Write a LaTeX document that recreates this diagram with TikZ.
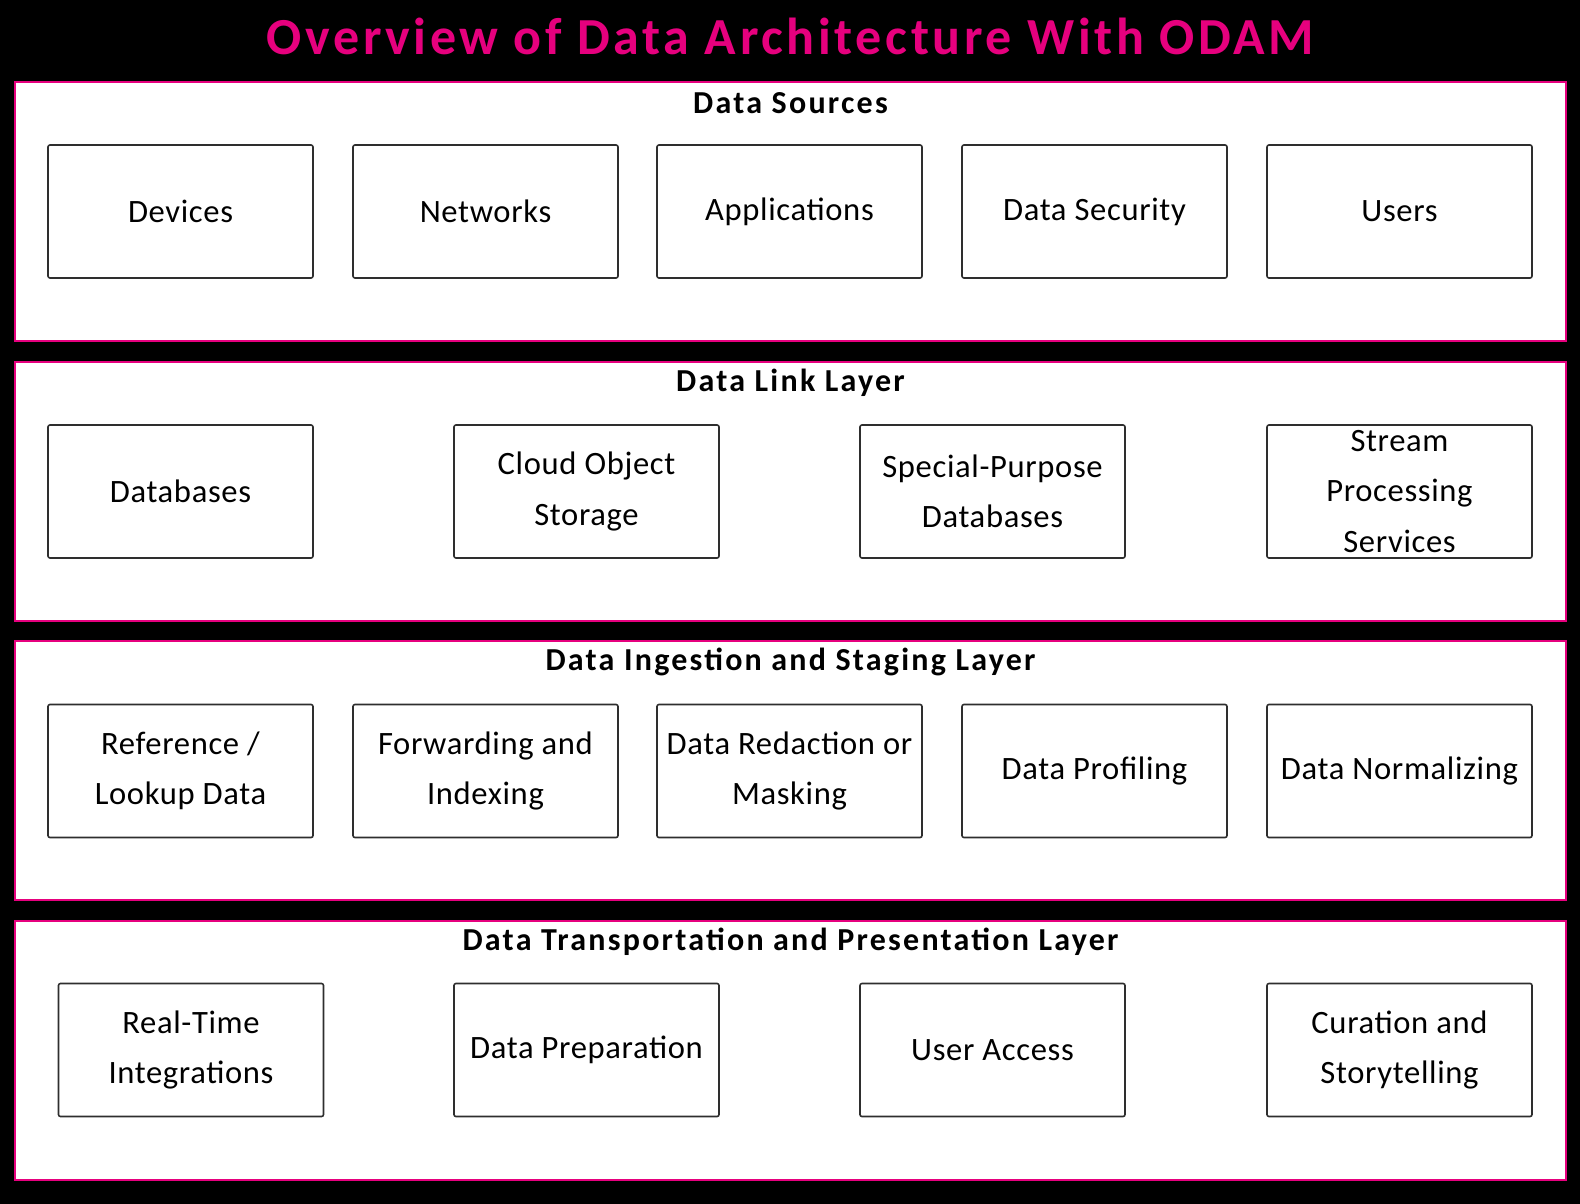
\documentclass[tikz,border=0pt]{standalone}
\usepackage{fontspec}
\setmainfont{Carlito}
\newfontfamily\spacedfont[LetterSpace=7]{Carlito}
\newfontfamily\boxfont[LetterSpace=2]{Carlito}
\usepackage{xcolor}
\usetikzlibrary{positioning,calc}

\definecolor{odampink}{HTML}{E6007E}
\definecolor{boxgray}{HTML}{2E2E2E}

\tikzset{
    layer/.style={draw=odampink, line width=1pt, fill=white, inner sep=0pt,
        minimum width=775.5pt, minimum height=129.5pt},
    layertitle/.style={font=\spacedfont\bfseries\fontsize{16}{19}\selectfont, inner sep=0pt},
    item/.style={draw=boxgray, line width=0.8pt, fill=white, rounded corners=1pt,
        inner sep=0pt, align=center, minimum width=132.5pt, minimum height=66.5pt,
        font=\boxfont\fontsize{16.3}{25.2}\selectfont},
    maintitle/.style={text=odampink, font=\spacedfont\bfseries\fontsize{26}{30}\selectfont, inner sep=0pt}
}

\begin{document}
\begin{tikzpicture}[x=0.5pt, y=-0.5pt]
    % Background
    \fill[black] (0,0) rectangle (1580,1204);
    \useasboundingbox (0,0) rectangle (1580,1204);

    \node[maintitle] (title) at (790.5,36) {Overview of Data Architecture With ODAM};

    % Layer 1: Data Sources
    \node[layer] (sources) at (790.5,211.5) {};
    \node[layertitle] (sourcestitle) at ([yshift=-11pt]sources.north) {Data Sources};
    \node[item] (devices) at (180.5,211.5) {Devices};
    \node[item] (networks) at (485.5,211.5) {Networks};
    \node[item] (apps) at (789.5,211.5) {Applications};
    \node[item] (security) at (1094.5,211.5) {Data Security};
    \node[item] (users) at (1399.5,211.5) {Users};

    % Layer 2: Data Link Layer
    \node[layer] (link) at (790.5,491) {};
    \node[layertitle] (linktitle) at ([yshift=-11pt]link.north) {Data Link Layer};
    \node[item] (databases) at (180.5,491.5) {Databases};
    \node[item] (cloud) at (586.5,491.5) {Cloud Object\\Storage};
    \node[item] (special) at (992.5,491.5) {Special-Purpose\\Databases};
    \node[item] (stream) at (1399.5,491.5) {Stream\\Processing\\Services};

    % Layer 3: Data Ingestion and Staging Layer
    \node[layer] (ingest) at (790.5,770.5) {};
    \node[layertitle] (ingesttitle) at ([yshift=-11pt]ingest.north) {Data Ingestion and Staging Layer};
    \node[item] (lookup) at (180.5,771) {Reference /\\Lookup Data};
    \node[item] (forward) at (485.5,771) {Forwarding and\\Indexing};
    \node[item] (redact) at (789.5,771) {Data Redaction or\\Masking};
    \node[item] (profile) at (1094.5,771) {Data Profiling};
    \node[item] (normal) at (1399.5,771) {Data Normalizing};

    % Layer 4: Data Transportation and Presentation Layer
    \node[layer] (present) at (790.5,1050) {};
    \node[layertitle] (presenttitle) at ([yshift=-11pt]present.north) {Data Transportation and Presentation Layer};
    \node[item] (realtime) at (191,1050) {Real-Time\\Integrations};
    \node[item] (prep) at (586.5,1050) {Data Preparation};
    \node[item] (access) at (992.5,1050) {User Access};
    \node[item] (curation) at (1399.5,1050) {Curation and\\Storytelling};
\end{tikzpicture}
\end{document}
